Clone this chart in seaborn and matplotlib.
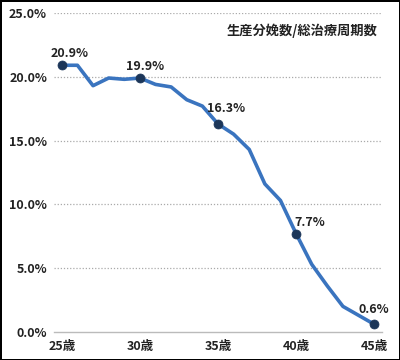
import pandas as pd
import matplotlib.pyplot as plt
import seaborn as sns
from matplotlib.ticker import FixedLocator

ages = list(range(25, 46))
rates = [20.9, 20.9, 19.3, 19.9, 19.8, 19.9, 19.4, 19.2, 18.2, 17.7, 16.3,
         15.5, 14.3, 11.6, 10.3, 7.7, 5.3, 3.6, 2.0, 1.3, 0.6]
marked_ages = [25, 30, 35, 40, 45]
tick_ages = [25, 30, 35, 40, 45]
y_ticks = [0, 5, 10, 15, 20, 25]
title = "生産分娩数/総治療周期数"

df = pd.DataFrame({"age": ages, "rate": rates})
marked = df[df["age"].isin(marked_ages)]

sns.set_style("white")
plt.rcParams["font.family"] = ["Noto Sans CJK JP", "DejaVu Sans"]

fig = plt.figure(figsize=(4, 3.6), dpi=100)
fig.patch.set_edgecolor("black")
fig.patch.set_linewidth(2)
ax = fig.add_axes([0.135, 0.078, 0.82, 0.886])

sns.lineplot(data=df, x="age", y="rate", ax=ax, color="#3a74bf", linewidth=2.6)
sns.scatterplot(data=marked, x="age", y="rate", ax=ax, color="#1c3659",
                s=42, edgecolor="#1c3659", zorder=5)

# label offsets in points (baseline anchored)
offsets = {25: (5.8, 5.8), 30: (4, 5.5), 35: (6, 8.6), 40: (10, 5.5), 45: (0, 8.4)}
for a, r in zip(marked["age"], marked["rate"]):
    ax.annotate(f"{r:.1f}%", (a, r), xytext=offsets[a], textcoords="offset points",
                ha="center", va="baseline", fontsize=9, fontweight="bold", color="#222222")

ax.set_xlim(24.5, 45.5)
ax.set_ylim(0, 25)
ax.set_yticks(y_ticks)
ax.set_yticklabels([f"{v:.1f}%" for v in y_ticks])
ax.set_xticks(tick_ages)
ax.set_xticklabels([f"{a}歳" for a in tick_ages])
ax.xaxis.set_minor_locator(FixedLocator([a + 0.5 for a in range(24, 46)]))
ax.tick_params(axis="x", which="major", length=0, pad=6)
ax.tick_params(axis="x", which="minor", length=3, color="#bbbbbb", width=1)
ax.tick_params(axis="y", length=0, pad=5)
for lab in ax.get_xticklabels() + ax.get_yticklabels():
    lab.set_fontsize(9)
    lab.set_fontweight("bold")
    lab.set_color("#222222")

for v in y_ticks[1:]:
    ax.axhline(v, color="#aaaaaa", linewidth=0.9, linestyle=(0, (1, 1.5)), zorder=0)

for side in ["top", "right", "left"]:
    ax.spines[side].set_visible(False)
ax.spines["bottom"].set_color("#bbbbbb")
ax.spines["bottom"].set_linewidth(1)

ax.set_xlabel("")
ax.set_ylabel("")
ax.text(0.985, 0.945, title, transform=ax.transAxes, ha="right", va="center",
        fontsize=9.5, fontweight="bold", color="#222222")

fig.savefig("out.png", dpi=100, edgecolor=fig.get_edgecolor())
